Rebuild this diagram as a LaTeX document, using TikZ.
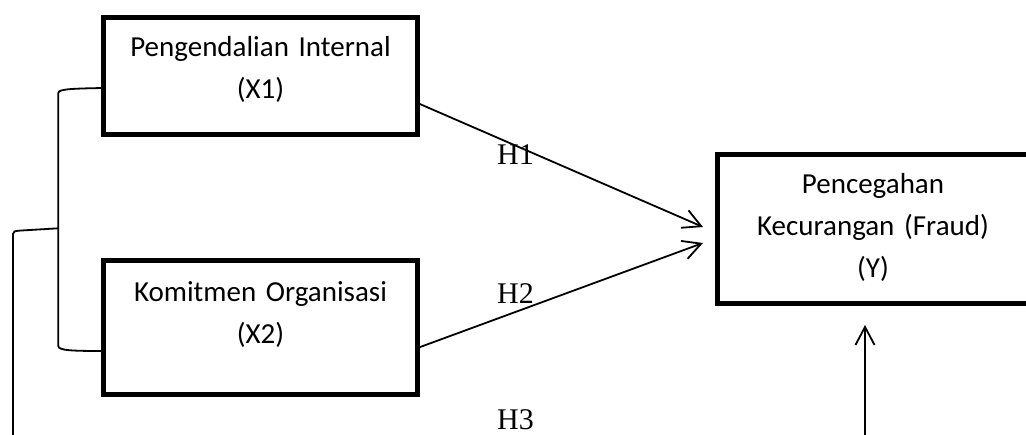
\documentclass[tikz,border=0pt]{standalone}
\usepackage{fontspec}
\setmainfont{Carlito}
\newfontfamily\hypfont{Liberation Serif}
\usetikzlibrary{arrows.meta,calc}

\begin{document}
\begin{tikzpicture}[x=1pt,y=-1pt,
  box/.style={draw=black, line width=5pt, inner sep=0pt, outer sep=0pt},
  boxtext/.style={font=\fontsize{29}{42}\selectfont, text width=320pt, align=center, anchor=base, inner sep=0pt},
  hyp/.style={font=\hypfont\fontsize{30}{36}\selectfont, anchor=base west, inner sep=0pt},
  link/.style={line width=1.8pt, -{Straight Barb[length=18pt,width=19pt]}},
  brace/.style={line width=1.8pt}]
\useasboundingbox (0,0) rectangle (1026,435);
\clip (0,0) rectangle (1026,435);

% variable boxes
\node[box, minimum width=314pt, minimum height=117pt] (x1) at (260.5,76) {};
\node[box, minimum width=314pt, minimum height=134pt] (x2) at (260.5,328) {};
\node[box, minimum width=311pt, minimum height=149pt] (yb) at (873,229) {};

\node[boxtext] (t1) at (260.5,57) {Pengendalian Internal\\(X1)};
\node[boxtext] (t2) at (260.5,302) {Komitmen Organisasi\\(X2)};
\node[boxtext] (t3) at (873,193.5) {Pencegahan\\Kecurangan (Fraud)\\(Y)};

% bracket joining X1 and X2
\coordinate (bm) at (58.3,228.3);
\coordinate (bl) at (13,445);
\draw[brace] ([yshift=-12pt]x1.west) .. controls (72,88.6) and (58.3,89) .. (58.3,93)
  -- (58.3,346) .. controls (58.3,350.5) and (72,351) .. ([yshift=-23pt]x2.west);
\draw[brace] (bm) -- (20,230.6) .. controls (14.5,231) and (13,231.5) .. (13,234) -- (bl);

% hypothesis arrows
\draw[link] ([yshift=-27pt]x1.east) -- ([xshift=-14.5pt,yshift=2pt]yb.west);
\draw[link] ([yshift=-20pt]x2.east) -- ([xshift=-14.5pt,yshift=-14pt]yb.west);
\coordinate (yin) at (865,445);
\draw[link] (yin) -- ([xshift=-8pt,yshift=-21.5pt]yb.south);

\node[hyp] (h1) at (497,165) {H1};
\node[hyp] (h2) at (497,303.3) {H2};
\node[hyp] (h3) at (497,430) {H3};
\end{tikzpicture}
\end{document}
